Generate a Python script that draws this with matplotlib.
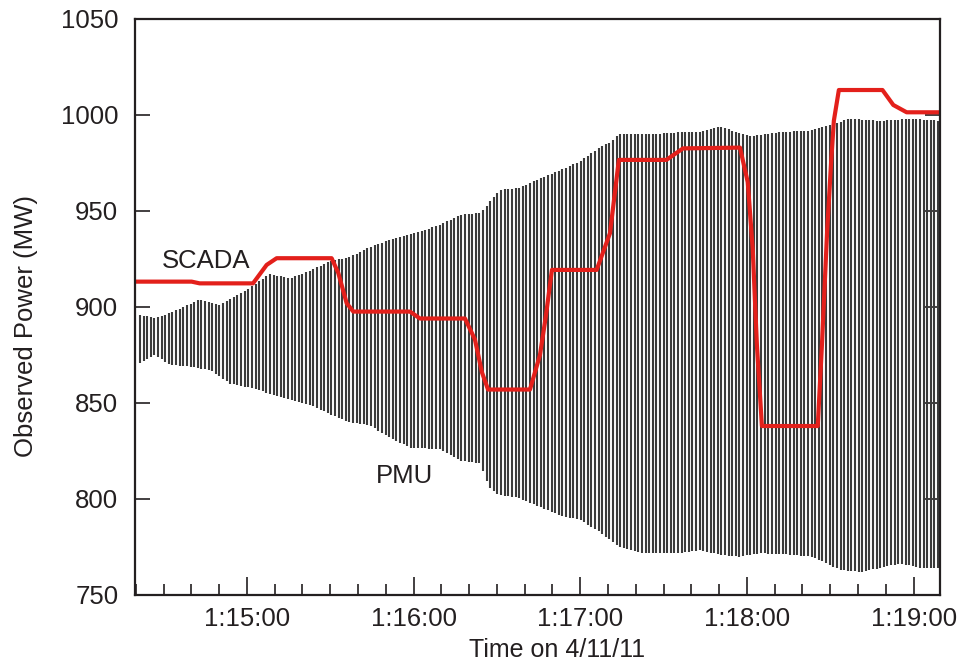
import matplotlib
matplotlib.use("Agg")
import matplotlib.pyplot as plt
from matplotlib.ticker import FuncFormatter, MultipleLocator
import numpy as np

plt.rcParams["font.family"] = ["Liberation Sans", "DejaVu Sans"]

# time axis: seconds after 1:15:00 on 4/11/11
T0 = 1 * 3600 + 15 * 60

# PMU oscillation envelope (MW)
pmu_t = [-38.5, -33, -26, -17, -10, 1, 8, 15.5, 23, 30, 37, 44, 51.5, 62,
         69.5, 77, 84, 87, 91, 98, 105.5, 112.7, 120, 127, 131, 134, 145,
         156, 163, 170, 181, 192, 203, 210, 217, 228, 239, 249]
pmu_hi = [896, 894, 898, 904, 901, 910, 917, 915, 919, 924, 926, 931, 935,
          939, 943, 948, 949, 954, 961, 962, 967, 971, 976, 983, 986, 990,
          990, 991, 991, 994, 989, 991, 992, 995, 998, 997, 998, 997]
pmu_lo_t = [-38.5, -33, -28, -20.5, -13, -6, 1, 8, 15.5, 23, 30, 37, 44,
            51.5, 59, 69.5, 77, 84, 86, 87.5, 91, 98, 105.5, 112.7, 120,
            127, 134, 141.5, 148.7, 156, 163, 170, 177.5, 184.7, 195.5,
            203, 208, 213.5, 220.7, 228, 235, 242.5, 249]
pmu_lo = [871, 875, 870, 869, 867, 860, 858, 855, 851.6, 849, 844, 840,
          838.5, 832, 826.6, 826, 820, 818.7, 810, 805.7, 802, 800.5, 796,
          791.6, 789, 782.8, 775, 772, 771.8, 772, 773.4, 771, 770, 771.8,
          771, 770, 767, 763, 762, 764, 766.5, 764, 764]
swing_period = 1.3  # seconds per oscillation stroke

# SCADA samples (MW)
scada_t = [-40.3, -19.9, -17, 2.2, 7.1, 10.7, 30.5, 32.9, 35.9, 38.3, 58.7,
           62.3, 78.5, 82.1, 84.6, 86.8, 101.9, 105.5, 107.6, 109.8, 125.9,
           130.7, 133.9, 151, 157, 177.5, 180.3, 182.1, 183.6, 185.4, 205.5,
           207, 208.9, 210.3, 211.3, 213.1, 228.8, 232.7, 237.5, 249.5]
scada_mw = [913.2, 913.2, 912.3, 912.3, 921.9, 925.4, 925.4, 917.7, 902,
            897.6, 897.6, 894, 894, 883, 866, 857, 857, 875, 895, 919.3,
            919.3, 938.4, 976.6, 976.6, 982.6, 983, 965, 930, 880, 838, 838,
            880, 940, 975, 997, 1013, 1013, 1005.2, 1001.4, 1001.4]

fig = plt.figure(figsize=(9.62, 6.68), dpi=100)
ax = fig.add_axes([0.1403, 0.1093, 0.8368, 0.8623])

stroke_t = np.arange(pmu_t[0], pmu_t[-1] + 0.01, swing_period)
ax.vlines(stroke_t, np.interp(stroke_t, pmu_lo_t, pmu_lo),
          np.interp(stroke_t, pmu_t, pmu_hi), color="#3a3a3a", lw=1.5)

ax.plot(scada_t, scada_mw, color="#e3201b", lw=3, solid_joinstyle="round")

ax.text(-14.8, 924, "SCADA", fontsize=18.5, ha="center", va="center",
        color="#231f20")
ax.text(56.9, 812, "PMU", fontsize=18.5, ha="center", va="center",
        color="#231f20")

ax.set_xlim(-40.3, 249.5)
ax.set_ylim(750, 1050)
ax.xaxis.set_major_locator(MultipleLocator(60))
ax.xaxis.set_minor_locator(MultipleLocator(10))
ax.yaxis.set_major_locator(MultipleLocator(50))


def hms(v, pos):
    s = int(round(T0 + v))
    return f"{s // 3600}:{s % 3600 // 60:02d}:{s % 60:02d}"


ax.xaxis.set_major_formatter(FuncFormatter(hms))
ax.tick_params(axis="x", which="major", direction="in", length=13,
               width=1.2, labelsize=18.5, pad=9, colors="#231f20")
ax.tick_params(axis="x", which="minor", direction="in", length=8,
               width=1.2, colors="#231f20")
ax.tick_params(axis="y", which="major", direction="in", length=11,
               width=1.2, labelsize=18.5, pad=12, right=True,
               colors="#231f20")
for sp in ax.spines.values():
    sp.set_linewidth(1.6)
    sp.set_color("#231f20")

ax.set_xlabel("Time on 4/11/11", fontsize=18, color="#231f20")
ax.xaxis.set_label_coords(0.524, -0.0745)
ax.set_ylabel("Observed Power (MW)", fontsize=18.5, color="#231f20")
ax.yaxis.set_label_coords(-0.121, 0.467)

fig.savefig("out.png", dpi=100)
